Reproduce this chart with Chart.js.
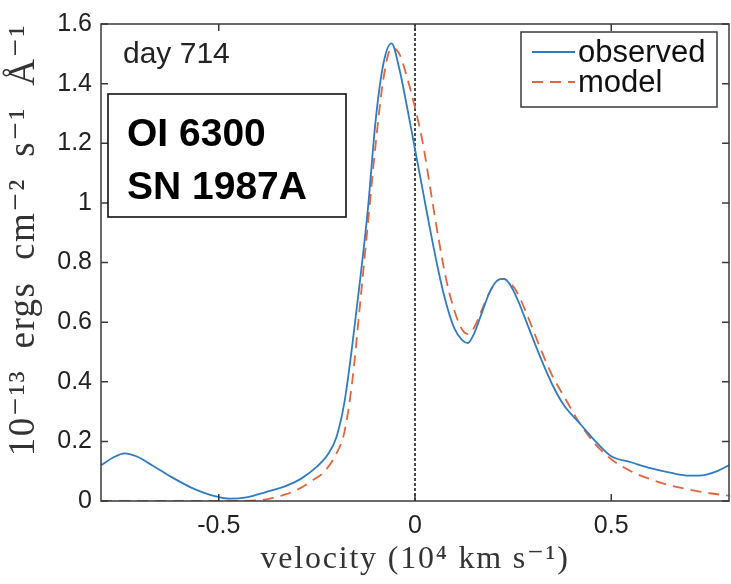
<!DOCTYPE html>
<html>
<head>
<meta charset="utf-8">
<script src="https://cdn.jsdelivr.net/npm/chart.js@4"></script>
<style>
  html, body { margin: 0; padding: 0; background: #fff; }
  #wrap { width: 731px; height: 584px; }
</style>
</head>
<body>
<div id="wrap"><canvas id="chart"></canvas></div>
<script>
// observed profile (velocity in 1e4 km/s, flux in 1e-13 erg/cm2/s/A)
const obsVel = [-0.80, -0.77, -0.74, -0.71, -0.67, -0.62, -0.57, -0.52, -0.47, -0.43, -0.38, -0.33, -0.29, -0.25, -0.22, -0.20, -0.18, -0.16, -0.14, -0.12, -0.10, -0.08, -0.06, -0.04, -0.02, 0.00, 0.02, 0.04, 0.06, 0.08, 0.10, 0.12, 0.135, 0.15, 0.17, 0.19, 0.21, 0.225, 0.24, 0.26, 0.29, 0.32, 0.35, 0.38, 0.42, 0.46, 0.50, 0.55, 0.60, 0.65, 0.70, 0.74, 0.77, 0.80];
const obsFlux = [0.12, 0.145, 0.16, 0.15, 0.12, 0.08, 0.045, 0.02, 0.008, 0.012, 0.03, 0.05, 0.075, 0.115, 0.16, 0.215, 0.33, 0.52, 0.74, 0.98, 1.28, 1.47, 1.535, 1.45, 1.32, 1.18, 1.04, 0.90, 0.77, 0.66, 0.58, 0.54, 0.53, 0.56, 0.63, 0.70, 0.74, 0.745, 0.73, 0.68, 0.58, 0.48, 0.39, 0.32, 0.26, 0.20, 0.15, 0.13, 0.11, 0.095, 0.085, 0.088, 0.10, 0.12];

// model profile
const modVel = [-0.80, -0.70, -0.60, -0.50, -0.40, -0.37, -0.33, -0.30, -0.26, -0.23, -0.20, -0.18, -0.16, -0.14, -0.12, -0.10, -0.08, -0.06, -0.04, -0.02, 0.00, 0.02, 0.04, 0.06, 0.08, 0.10, 0.12, 0.135, 0.15, 0.17, 0.19, 0.21, 0.225, 0.24, 0.26, 0.29, 0.32, 0.35, 0.38, 0.42, 0.46, 0.50, 0.55, 0.60, 0.65, 0.70, 0.75, 0.80];
const modFlux = [0, 0, 0, 0, 0.002, 0.008, 0.022, 0.038, 0.07, 0.10, 0.16, 0.23, 0.40, 0.66, 0.93, 1.20, 1.42, 1.52, 1.50, 1.42, 1.32, 1.20, 1.04, 0.88, 0.74, 0.64, 0.575, 0.56, 0.58, 0.64, 0.70, 0.74, 0.745, 0.735, 0.70, 0.61, 0.51, 0.42, 0.35, 0.26, 0.19, 0.14, 0.10, 0.073, 0.052, 0.038, 0.026, 0.018];

// rest velocity marker
const zeroVel = [0, 0];
const zeroFlux = [0, 1.6];

const xTickValues = [-0.5, 0, 0.5];
const xTickLabels = ["-0.5", "0", "0.5"];
const yTickValues = [0, 0.2, 0.4, 0.6, 0.8, 1, 1.2, 1.4, 1.6];
const yTickLabels = ["0", "0.2", "0.4", "0.6", "0.8", "1", "1.2", "1.4", "1.6"];

const seriesNames = ["observed", "model"];
const dayLabel = "day 714";
const boxLines = ["OI 6300", "SN 1987A"];
const xTitle = "velocity (10\u2074 km s\u207B\u00B9)";
const yTitle = "10\u207B\u00B9\u00B3  ergs  cm\u207B\u00B2  s\u207B\u00B9  \u00C5\u207B\u00B9";

const blue = "#2f7cc4";
const red = "#e2653c";
const axisColor = "#3a3a3a";
const textColor = "#222";

function zip(xs, ys) {
    return xs.map((x, i) => ({ x: x, y: ys[i] }));
}

const frame = {
    id: "frame",
    afterDatasetsDraw(chart) {
        const ctx = chart.ctx;
        const a = chart.chartArea;
        const xs = chart.scales.x;
        const ys = chart.scales.y;
        ctx.save();
        ctx.strokeStyle = axisColor;
        ctx.lineWidth = 1.5;
        ctx.strokeRect(a.left, a.top, a.right - a.left, a.bottom - a.top);
        const tl = 7;
        ctx.beginPath();
        xTickValues.forEach(v => {
            const px = xs.getPixelForValue(v);
            ctx.moveTo(px, a.bottom); ctx.lineTo(px, a.bottom - tl);
            ctx.moveTo(px, a.top); ctx.lineTo(px, a.top + tl);
        });
        yTickValues.forEach(v => {
            const py = ys.getPixelForValue(v);
            ctx.moveTo(a.left, py); ctx.lineTo(a.left + tl, py);
            ctx.moveTo(a.right, py); ctx.lineTo(a.right - tl, py);
        });
        ctx.stroke();

        // axis titles (serif, a bit spaced out like the LaTeX labels)
        ctx.fillStyle = "#333";
        ctx.textAlign = "center";
        ctx.textBaseline = "middle";
        ctx.letterSpacing = "1.8px";
        ctx.font = "32px 'Liberation Serif', 'DejaVu Serif', serif";
        ctx.fillText(xTitle, (a.left + a.right) / 2, 560);
        ctx.save();
        ctx.translate(24, 240);
        ctx.rotate(-Math.PI / 2);
        ctx.letterSpacing = "1.5px";
        ctx.font = "37px 'Liberation Serif', 'DejaVu Serif', serif";
        ctx.fillText(yTitle, 0, 0);
        ctx.restore();
        ctx.letterSpacing = "0px";
        ctx.textAlign = "left";
        ctx.textBaseline = "alphabetic";

        // day label
        ctx.fillStyle = textColor;
        ctx.font = "30px 'Liberation Sans', Arial, sans-serif";
        ctx.fillText(dayLabel, 123, 63);

        // line / supernova box
        ctx.fillStyle = "#fff";
        ctx.fillRect(108, 94, 238, 123);
        ctx.strokeStyle = "#111";
        ctx.lineWidth = 1.6;
        ctx.strokeRect(108, 94, 238, 123);
        ctx.fillStyle = "#000";
        ctx.font = "bold 39px 'Liberation Sans', Arial, sans-serif";
        ctx.fillText(boxLines[0], 127, 146);
        ctx.fillText(boxLines[1], 127, 199);

        // legend
        ctx.fillStyle = "#fff";
        ctx.fillRect(521, 32, 196, 75);
        ctx.strokeStyle = axisColor;
        ctx.lineWidth = 1.5;
        ctx.strokeRect(521, 32, 196, 75);
        ctx.font = "31px 'Liberation Sans', Arial, sans-serif";
        const rows = [52, 82];
        chart.data.datasets.slice(0, 2).forEach((ds, i) => {
            ctx.strokeStyle = ds.borderColor;
            ctx.lineWidth = 1.8;
            ctx.setLineDash(ds.borderDash || []);
            ctx.beginPath();
            ctx.moveTo(532, rows[i]);
            ctx.lineTo(575, rows[i]);
            ctx.stroke();
            ctx.setLineDash([]);
            ctx.fillStyle = "#111";
            ctx.fillText(ds.label, 578, rows[i] + 10);
        });
        ctx.restore();
    }
};

new Chart(document.getElementById("chart"), {
    type: "line",
    data: {
        datasets: [
            {
                label: seriesNames[0],
                data: zip(obsVel, obsFlux),
                borderColor: blue,
                borderWidth: 1.8,
                pointRadius: 0,
                cubicInterpolationMode: "monotone",
                order: 1
            },
            {
                label: seriesNames[1],
                data: zip(modVel, modFlux),
                borderColor: red,
                borderWidth: 1.8,
                borderDash: [11, 7],
                pointRadius: 0,
                cubicInterpolationMode: "monotone",
                order: 2
            },
            {
                label: "zero",
                data: zip(zeroVel, zeroFlux),
                borderColor: "#111",
                borderWidth: 1.5,
                borderDash: [3, 2],
                pointRadius: 0,
                order: 3
            }
        ]
    },
    options: {
        responsive: true,
        maintainAspectRatio: false,
        animation: false,
        layout: { padding: { top: 17, right: 2, left: 0, bottom: 0 } },
        plugins: {
            legend: { display: false },
            tooltip: { enabled: false }
        },
        scales: {
            x: {
                type: "linear",
                min: -0.8,
                max: 0.8,
                afterBuildTicks: (scale) => {
                    scale.ticks = xTickValues.map(v => ({ value: v }));
                },
                afterFit: (scale) => { scale.height = 83; },
                grid: { display: false, drawTicks: false },
                border: { display: false },
                ticks: {
                    padding: 10,
                    color: textColor,
                    font: { family: "'Liberation Sans', Arial, sans-serif", size: 25 },
                    callback: (v) => xTickLabels[xTickValues.indexOf(v)]
                },
                title: { display: false }
            },
            y: {
                min: 0,
                max: 1.6,
                afterBuildTicks: (scale) => {
                    scale.ticks = yTickValues.map(v => ({ value: v }));
                },
                afterFit: (scale) => { scale.width = 101; },
                grid: { display: false, drawTicks: false },
                border: { display: false },
                ticks: {
                    padding: 9,
                    color: textColor,
                    font: { family: "'Liberation Sans', Arial, sans-serif", size: 25 },
                    callback: (v) => yTickLabels[yTickValues.indexOf(v)]
                },
                title: { display: false }
            }
        }
    },
    plugins: [frame]
});
</script>
</body>
</html>
